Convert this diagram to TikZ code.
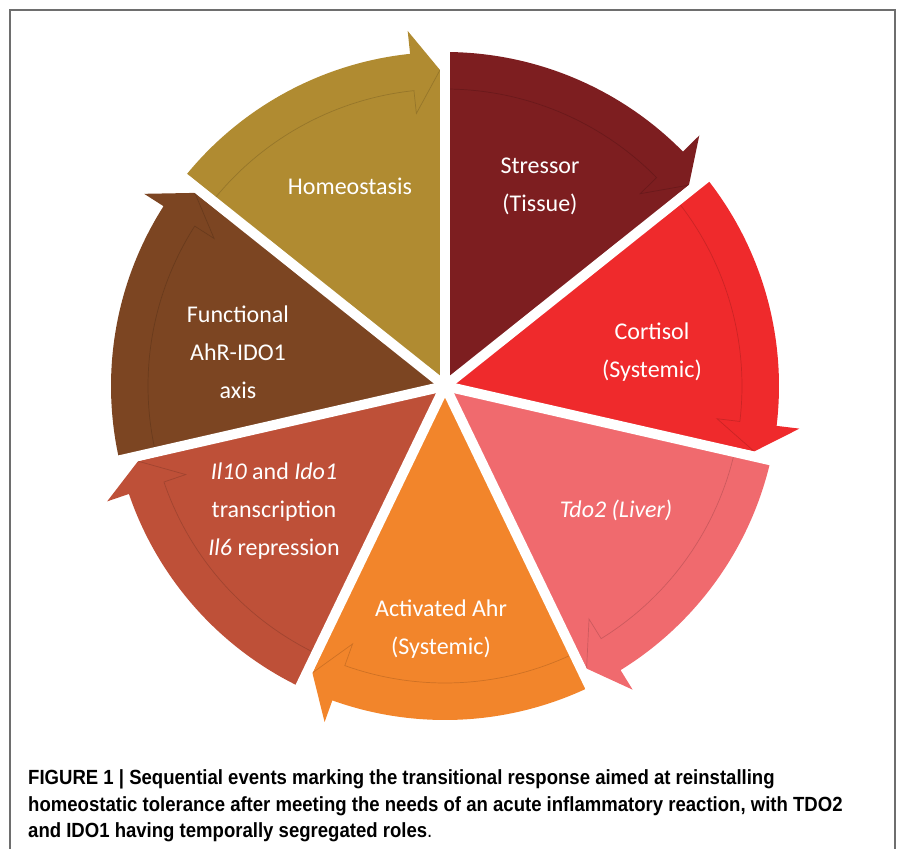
\documentclass[tikz,border=0pt]{standalone}
\usepackage{fontspec}
\setmainfont{Carlito}
\newfontfamily\capfont[FakeStretch=0.905]{Liberation Sans}
\usetikzlibrary{calc}
\definecolor{cHome}{HTML}{B08B31}
\definecolor{cStress}{HTML}{7D1E20}
\definecolor{cCort}{HTML}{EF2A2C}
\definecolor{cTdo}{HTML}{F06A6E}
\definecolor{cAhr}{HTML}{F2852B}
\definecolor{cIl}{HTML}{BE5038}
\definecolor{cFunc}{HTML}{7C4522}
\definecolor{frameGray}{HTML}{6E6E6E}
\tikzset{
  lbl/.style={text=white, font=\fontsize{24}{38}\selectfont, align=center, inner sep=0},
  capline/.style={anchor=base west, inner sep=0, font=\capfont\bfseries\fontsize{20.5}{22}\selectfont},
  gapline/.style={white, line width=10pt},
  inline/.style={line width=0.7pt}
}
\begin{document}
\begin{tikzpicture}[x=1pt,y=1pt]
\useasboundingbox (0,0) rectangle (898,-849);
\draw[frameGray, line width=1.5pt] (10,-852) -- (10,-10) -- (895,-10) -- (895,-852);
\coordinate (C) at (445,-386);
\def\Rout{334}\def\Rin{297}\def\Hout{357}\def\Hin{274}\def\Rtip{316}
\foreach \s/\col in {141.4286/cHome, 90/cStress, 38.5714/cCort, -12.8571/cTdo, -64.2857/cAhr, -115.7143/cIl, -167.1429/cFunc}{
  \pgfmathsetmacro\secE{\s-51.4286}
  \pgfmathsetmacro\secB{\secE+6}
  \coordinate (tip) at ($(C)+(\secE:\Rtip)+(\secE+90:5)$);
  \fill[\col] (C) -- ($(C)+(\s:\Rout)$) arc[start angle=\s, end angle=\secB, radius=\Rout]
     -- ($(C)+(\secB:\Hout)$) -- (tip) -- cycle;
  \draw[\col!85!black, inline] ($(C)+(\s:\Rin)$) arc[start angle=\s, end angle=\secB, radius=\Rin]
     -- ($(C)+(\secB:\Hin)$) -- (tip);
}
\foreach \a in {90,38.5714,-12.8571,-64.2857,-115.7143,-167.1429,141.4286}{
  \draw[gapline] (C) -- ($(C)+(\a:375)$);
}
\fill[white] (C) circle (9);
\node[lbl] (home) at (350,-186) {Homeostasis};
\node[lbl] (stress) at (540,-186) {Stressor\\(Tissue)};
\node[lbl] (cort) at (652,-352) {Cortisol\\(Systemic)};
\node[lbl] (tdo) at (616,-510) {\itshape Tdo2 (Liver)};
\node[lbl] (ahr) at (441,-629) {Activated Ahr\\(Systemic)};
\node[lbl] (il) at (274,-511) {\textit{Il10} and \textit{Ido1}\\transcription\\\textit{Il6} repression};
\node[lbl] (func) at (238,-352) {Functional\\AhR-IDO1\\axis};
\node[capline] (cap1) at (28,-784) {FIGURE 1 | Sequential events marking the transitional response aimed at reinstalling};
\node[capline] (cap2) at (28,-811) {homeostatic tolerance after meeting the needs of an acute inflammatory reaction, with TDO2};
\node[capline] (cap3) at (28,-837) {and IDO1 having temporally segregated roles{\mdseries .}};
\end{tikzpicture}
\end{document}
